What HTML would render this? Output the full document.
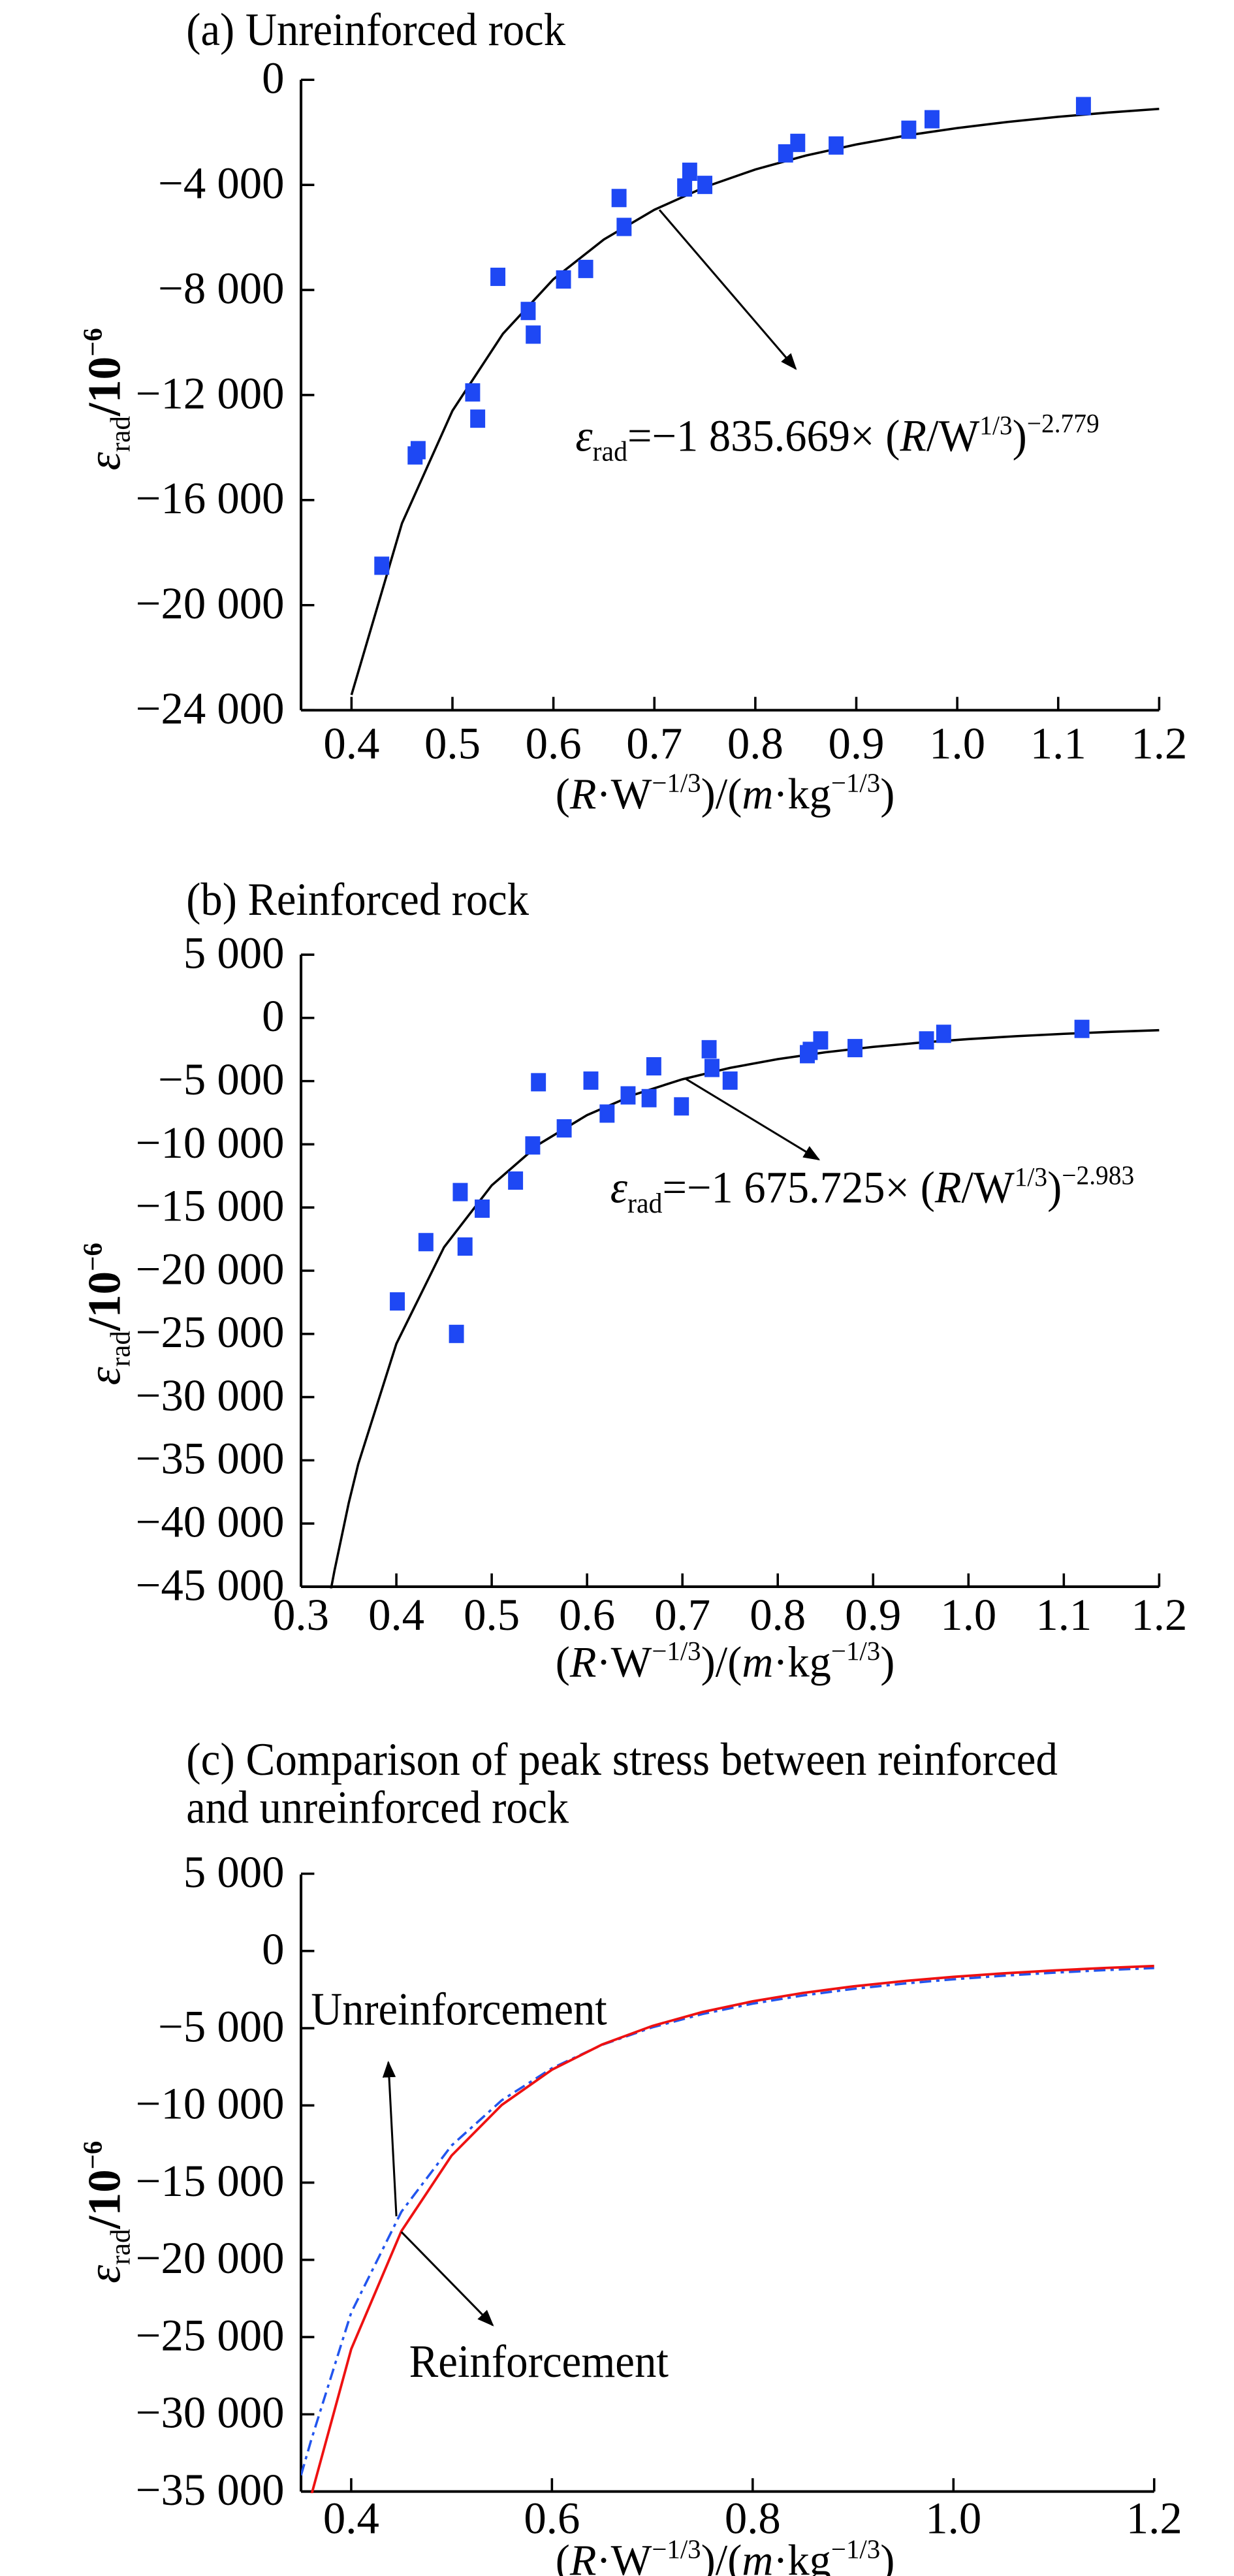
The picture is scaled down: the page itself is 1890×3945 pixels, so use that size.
<!DOCTYPE html>
<html><head><meta charset="utf-8"><style>
html,body{margin:0;padding:0;background:#fff;}
svg{display:block;}
text{font-family:"Liberation Serif",serif;fill:#000;}
</style></head><body>
<svg id="fig" width="1890" height="3945" viewBox="0 0 742 1548.8" preserveAspectRatio="none" xmlns="http://www.w3.org/2000/svg">
<defs>
<marker id="ah" markerWidth="10" markerHeight="8" refX="9" refY="4" orient="auto" markerUnits="userSpaceOnUse"><path d="M0,0 L10,4 L0,8 Z" fill="#000"/></marker>
<clipPath id="clipA"><rect x="181" y="40" width="520" height="388"/></clipPath>
<clipPath id="clipB"><rect x="181" y="565" width="520" height="390"/></clipPath>
<clipPath id="clipC"><rect x="181" y="1120" width="520" height="379"/></clipPath>
</defs>
</svg>
<script>
// ---------- data ----------
const fitX = [0.33,0.335,0.35,0.36,0.40,0.45,0.50,0.55,0.60,0.65,0.70,0.75,0.80,0.85,0.90,0.95,1.00,1.05,1.10,1.15,1.20];
const unreinfFit = [-39000,-36500,-33950,-31700,-23420,-16885,-12598,-9668,-7591,-6078,-4946,-4083,-3413,-2884,-2460,-2117,-1836,-1603,-1408,-1245,-1106];
const reinfFit = [-45750,-43760,-38390,-35300,-25781,-18141,-13249,-9971,-7690,-6058,-4856,-3953,-3260,-2721,-2295,-1953,-1676,-1449,-1261,-1104,-973];
const ptsAx = [0.43,0.463,0.466,0.52,0.525,0.545,0.575,0.58,0.61,0.632,0.665,0.67,0.73,0.735,0.75,0.83,0.842,0.88,0.952,0.975,1.125];
const ptsAy = [-18500,-14300,-14100,-11900,-12900,-7500,-8800,-9700,-7600,-7200,-4500,-5600,-4100,-3500,-4000,-2800,-2400,-2500,-1900,-1500,-1000];
const ptsBx = [0.401,0.431,0.463,0.467,0.472,0.49,0.525,0.543,0.549,0.576,0.604,0.621,0.643,0.665,0.670,0.699,0.728,0.731,0.750,0.831,0.834,0.845,0.881,0.956,0.974,1.119];
const ptsBy = [-22430,-17740,-25000,-13780,-18090,-15090,-12870,-10090,-5090,-8740,-4960,-7570,-6130,-6350,-3830,-7000,-2480,-3960,-4960,-2870,-2610,-1780,-2390,-1780,-1260,-870];
const ticksAy = [0,-4000,-8000,-12000,-16000,-20000,-24000];
const ticksAyLbl = ["0","\u22124 000","\u22128 000","\u221212 000","\u221216 000","\u221220 000","\u221224 000"];
const ticksAx = [0.4,0.5,0.6,0.7,0.8,0.9,1.0,1.1,1.2];
const ticksAxLbl = ["0.4","0.5","0.6","0.7","0.8","0.9","1.0","1.1","1.2"];
const ticksBy = [5000,0,-5000,-10000,-15000,-20000,-25000,-30000,-35000,-40000,-45000];
const ticksByLbl = ["5 000","0","\u22125 000","\u221210 000","\u221215 000","\u221220 000","\u221225 000","\u221230 000","\u221235 000","\u221240 000","\u221245 000"];
const ticksBx = [0.3,0.4,0.5,0.6,0.7,0.8,0.9,1.0,1.1,1.2];
const ticksBxLbl = ["0.3","0.4","0.5","0.6","0.7","0.8","0.9","1.0","1.1","1.2"];
const ticksCy = [5000,0,-5000,-10000,-15000,-20000,-25000,-30000,-35000];
const ticksCyLbl = ["5 000","0","\u22125 000","\u221210 000","\u221215 000","\u221220 000","\u221225 000","\u221230 000","\u221235 000"];
const ticksCx = [0.4,0.6,0.8,1.0,1.2];
const ticksCxLbl = ["0.4","0.6","0.8","1.0","1.2"];

const NS="http://www.w3.org/2000/svg";
const svg=document.getElementById('fig');
function mk(tag,attrs,parent){const e=document.createElementNS(NS,tag);for(const k in attrs)e.setAttribute(k,attrs[k]);(parent||svg).appendChild(e);return e;}
function txt(s,x,y,size,anchor,parent){const t=mk('text',{x:x,y:y,'font-size':size,'text-anchor':anchor||'start'},parent);t.textContent=s;return t;}
function fit(t,w){t.setAttribute('textLength',w);t.setAttribute('lengthAdjust','spacingAndGlyphs');}

const A={x0:0.35,px0:181,x1:1.2,px1:697,y0:0,py0:48,y1:-24000,py1:427};
const B={x0:0.3,px0:181,x1:1.2,px1:697,y0:0,py0:612,y1:-45000,py1:954};
const C={x0:0.35,px0:181,x1:1.2,px1:694,y0:0,py0:1173,y1:-35000,py1:1498};
function sx(S,v){return S.px0+(v-S.x0)/(S.x1-S.x0)*(S.px1-S.px0);}
function sy(S,v){return S.py0+(v-S.y0)/(S.y1-S.y0)*(S.py1-S.py0);}

function axes(S,name,yTicks,yLbl,xTicks,xLbl,yTop,xLblY){
  const g=mk('g',{});
  
  
  const ya=mk('line',{x1:S.px0,y1:yTop,x2:S.px0,y2:S.py1,stroke:'#000','stroke-width':1.6},g);
  
  const xa=mk('line',{x1:S.px0,y1:S.py1,x2:S.px1,y2:S.py1,stroke:'#000','stroke-width':1.6},g);
  
  yTicks.forEach((v,i)=>{const y=sy(S,v);
    mk('line',{x1:S.px0,y1:y,x2:S.px0+8,y2:y,stroke:'#000','stroke-width':1.4},g);
    const t=txt(yLbl[i],171,y+8,27,'end',g);
    });
  xTicks.forEach((v,i)=>{const x=sx(S,v);
    mk('line',{x1:x,y1:S.py1,x2:x,y2:S.py1-8,stroke:'#000','stroke-width':1.4},g);
    const t=txt(xLbl[i],x,xLblY,27,'middle',g);
    });
}
function xTitle(y,name){
  const t=mk('text',{x:334,y:y,'font-size':26});
  t.innerHTML='(<tspan font-style="italic">R</tspan>·W<tspan font-size="16" dy="-10">−1/3</tspan><tspan dy="10">)/(</tspan><tspan font-style="italic">m</tspan>·kg<tspan font-size="16" dy="-10">−1/3</tspan><tspan dy="10">)</tspan>';
  
  fit(t,204);
}
function yTitle(cy,name){
  const t=mk('text',{x:0,y:0,'font-size':28,'text-anchor':'middle',transform:'translate(72,'+cy+') rotate(-90)'});
  t.innerHTML='<tspan font-style="italic">ε</tspan><tspan font-size="17" dy="6">rad</tspan><tspan dy="-6" font-weight="bold">/10</tspan><tspan font-size="16" dy="-11" font-weight="bold">−6</tspan>';
  
}
function curve(S,xs,ys,clip,style,name,startX){
  const pts=[];xs.forEach((x,i)=>{if(x>=startX)pts.push(sx(S,x).toFixed(2)+','+sy(S,ys[i]).toFixed(2));});
  const p=mk('polyline',Object.assign({points:pts.join(' '),fill:'none','clip-path':'url(#'+clip+')'},style));
  
}
function scatter(S,xs,ys,name){
  xs.forEach((x,i)=>{const r=mk('rect',{x:sx(S,x)-4.5,y:sy(S,ys[i])-5.5,width:9,height:11,fill:'#1e48f4'});
    });
}
function arrow(S,x1,y1,x2,y2,name){
  const l=mk('line',{x1:sx(S,x1),y1:sy(S,y1),x2:sx(S,x2),y2:sy(S,y2),stroke:'#000','stroke-width':1.2,'marker-end':'url(#ah)'});
  
}
function eq(x,y,coef,exp,name){
  const t=mk('text',{x:x,y:y,'font-size':27});
  t.innerHTML='<tspan font-style="italic">ε</tspan><tspan font-size="17" dy="6">rad</tspan><tspan dy="-6">=−1 '+coef+'× (</tspan><tspan font-style="italic">R</tspan>/W<tspan font-size="16" dy="-10">1/3</tspan><tspan dy="10">)</tspan><tspan font-size="16" dy="-11">−'+exp+'</tspan>';
  
  fit(t,315);
}
function title(s,y,w,name){const t=txt(s,112,y,28,'start');fit(t,w);}

// ---------- chart (a) ----------
title('(a) Unreinforced rock',27,228,'title-a');
axes(A,'chart-a',ticksAy,ticksAyLbl,ticksAx,ticksAxLbl,48,456);
curve(A,fitX,unreinfFit,'clipA',{stroke:'#000','stroke-width':1.4},'fit-curve-a',0.4);
scatter(A,ptsAx,ptsAy,'data-point-a');
arrow(A,0.705,-4950,0.84,-11000,'annotation-arrow-a');
eq(346,271,'835.669','2.779','equation-a');
xTitle(486,'x-axis-title-a');
yTitle(240,'y-axis-title-a');

// ---------- chart (b) ----------
title('(b) Reinforced rock',550,206,'title-b');
axes(B,'chart-b',ticksBy,ticksByLbl,ticksBx,ticksBxLbl,574,980);
curve(B,fitX,reinfFit,'clipB',{stroke:'#000','stroke-width':1.4},'fit-curve-b',0.33);
scatter(B,ptsBx,ptsBy,'data-point-b');
arrow(B,0.703,-4800,0.843,-11200,'annotation-arrow-b');
eq(367,723,'675.725','2.983','equation-b');
xTitle(1008,'x-axis-title-b');
yTitle(790,'y-axis-title-b');

// ---------- chart (c) ----------
title('(c) Comparison of peak stress between reinforced',1067,524,'title-c-line1');
title('and unreinforced rock',1096,230,'title-c-line2');
axes(C,'chart-c',ticksCy,ticksCyLbl,ticksCx,ticksCxLbl,1127,1523);
curve(C,fitX,unreinfFit,'clipC',{stroke:'#2255ee','stroke-width':1.4,'stroke-dasharray':'7,3,2,3'},'unreinforced-curve',0.35);
curve(C,fitX,reinfFit,'clipC',{stroke:'#ee1111','stroke-width':1.5},'reinforced-curve',0.36);
arrow(C,0.445,-17180,0.437,-7215,'unreinforcement-arrow');
arrow(C,0.450,-18190,0.541,-24230,'reinforcement-arrow');
(function(){const t=txt('Unreinforcement',187,sy(C,-4770),28,'start');fit(t,178);
const r=txt('Reinforcement',246,sy(C,-27580),28,'start');fit(r,156);})();
xTitle(1548,'x-axis-title-c');
yTitle(1330,'y-axis-title-c');
</script>
</body></html>
